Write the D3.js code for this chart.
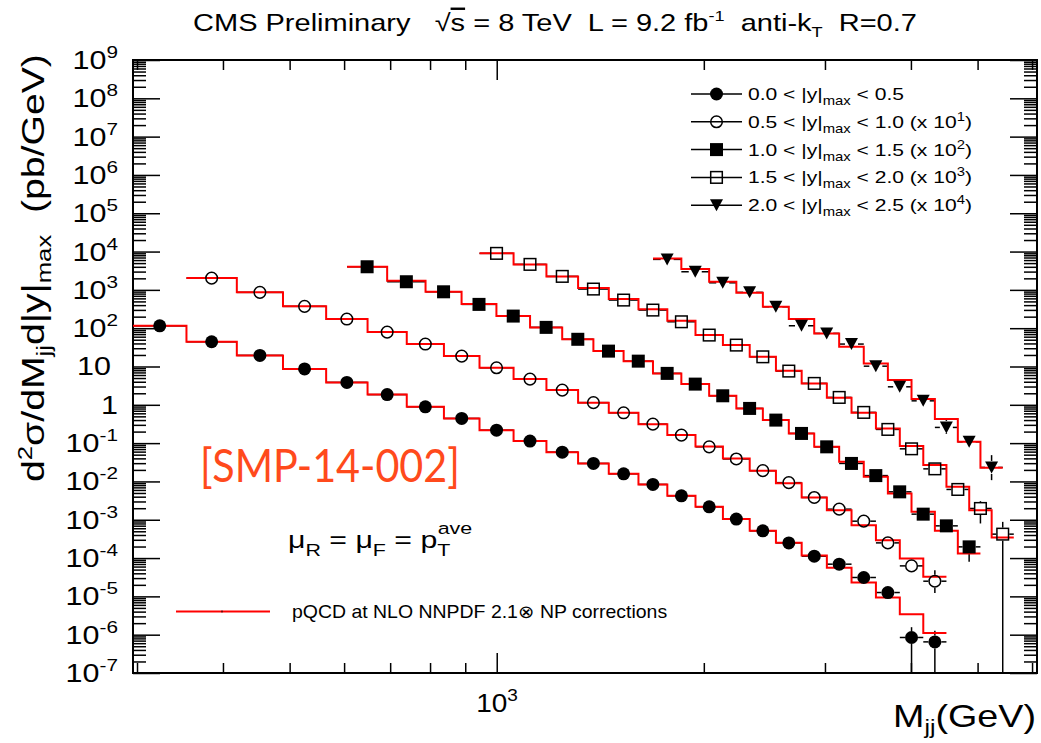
<!DOCTYPE html>
<html>
<head>
<meta charset="utf-8">
<script src="https://cdn.jsdelivr.net/npm/d3@7"></script>
<style>
	body { margin: 0; background: #fff; }
	svg { font-family: "Liberation Sans", Arial, Helvetica, sans-serif; }
</style>
</head>
<body>
<svg id="chart" width="1041" height="743"></svg>
<script>
// dijet mass bin edges (GeV); the |y|max 1.0-1.5 and 2.0-2.5 curves use the offset set
const massEdgesA = [296, 354, 419, 489, 565, 649, 740, 838, 944, 1058, 1181, 1313, 1455, 1607, 1770,
	1945, 2132, 2332, 2546, 2775, 3019, 3279, 3558, 3854, 4169, 4505, 4862, 5241, 5644];
const massEdgesB = [606, 693, 788, 889, 999, 1118, 1245, 1382, 1529, 1687, 1855, 2036, 2230, 2437,
	2658, 2894, 3146, 3416, 3703, 4008, 4334, 4680, 5048, 5439];

const rapidityEdges = ['0.0', '0.5', '1.0', '1.5', '2.0', '2.5'];
const scaleExp = [0, 1, 2, 3, 4];
const edgeSet = ['A', 'A', 'B', 'A', 'B'];
const firstBin = [0, 1, 0, 8, 9];
const markerType = ['dot', 'ring', 'square', 'box', 'tri'];

// measured cross sections (pb/GeV), before the x10^n offsets
const data0 = [115, 44.2, 19.5, 8.65, 3.85, 1.85, 0.887, 0.441, 0.218, 0.113, 0.0582, 0.0295, 0.0158,
	0.00835, 0.00421, 0.00217, 0.00104, 5.13e-4, 2.49e-4, 1.12e-4, 6.93e-5, 3.11e-5, 1.26e-5, 8.45e-7, 6.49e-7];
const data1 = [203, 86.1, 37.1, 17.3, 7.91, 3.85, 1.87, 0.925, 0.469, 0.242, 0.114, 0.0618, 0.0313,
	0.0162, 0.0080, 0.00386, 0.00191, 9.3e-4, 3.82e-4, 1.89e-4, 9.18e-5, 2.49e-5, 6.25e-6, 2.49e-6];
const data2 = [40.1, 16.3, 8.91, 4.18, 2.07, 1.05, 0.513, 0.252, 0.138, 0.0661, 0.0347, 0.0172, 0.00805,
	0.00399, 0.00179, 8.0e-4, 2.95e-4, 1.42e-4, 5.35e-5, 1.40e-5, 6.93e-6, 1.96e-6];
const data3 = [8.97, 4.63, 2.25, 1.05, 0.542, 0.297, 0.147, 0.0661, 0.0362, 0.0179, 0.00759, 0.00362,
	0.00156, 6.34e-4, 2.28e-4, 7.10e-5, 2.13e-5, 6.18e-6, 1.97e-6, 4.21e-7];
const data4 = [0.625, 0.297, 0.153, 0.0861, 0.0362, 0.01156, 0.00731, 0.00385, 0.00102, 2.95e-4, 1.27e-4,
	2.57e-5, 1.08e-5, 2.32e-6];

// NLO x NP prediction per bin
const theory0 = [115, 44.2, 19.5, 8.65, 3.85, 1.85, 0.887, 0.441, 0.218, 0.113, 0.0582, 0.0295, 0.0158,
	0.00835, 0.00421, 0.00217, 0.00104, 5.2e-4, 2.5e-4, 1.17e-4, 5.55e-5, 2.31e-5, 9.35e-6, 3.43e-6, 1.11e-6];
const theory1 = [203, 86.1, 37.1, 17.3, 7.91, 3.85, 1.87, 0.925, 0.469, 0.242, 0.114, 0.0618, 0.0313,
	0.0162, 0.0082, 0.00396, 0.00191, 9.0e-4, 3.82e-4, 1.78e-4, 7.23e-5, 2.93e-5, 9.77e-6, 3.23e-6];
const theory2 = [40.1, 17.4, 8.91, 4.3, 2.07, 1.05, 0.513, 0.252, 0.138, 0.0661, 0.0347, 0.0172, 0.00805,
	0.00399, 0.00179, 8.0e-4, 3.25e-4, 1.32e-4, 4.86e-5, 1.61e-5, 5.13e-6, 1.32e-6];
const theory3 = [8.97, 4.63, 2.25, 1.12, 0.58, 0.31, 0.156, 0.0661, 0.0362, 0.0179, 0.0077, 0.00362,
	0.00153, 6.2e-4, 2.4e-4, 8.36e-5, 2.67e-5, 7.23e-6, 1.78e-6, 3.45e-7];
const theory4 = [0.664, 0.349, 0.163, 0.0839, 0.0362, 0.0173, 0.00731, 0.00327, 0.00120, 4.42e-4, 1.41e-4,
	4.24e-5, 1.08e-5, 2.26e-6];

// the vertical error bars that stick out of the markers: [series, point, low, high] (0 = off scale)
const bigErrors = [[0, 23, 0, 1.57e-6], [0, 24, 0, 1.26e-6], [1, 23, 1.23e-6, 4.83e-6],
	[2, 21, 7.96e-7, 2.93e-6], [3, 18, 8.0e-7, 3.06e-6], [3, 19, 0, 8.81e-7],
	[4, 11, 1.82e-5, 4.5e-5], [4, 13, 1.08e-6, 4.86e-6]];

const allData = [data0, data1, data2, data3, data4];
const allTheory = [theory0, theory1, theory2, theory3, theory4];

const L = 133, R = 1037, T = 60, B = 673,
	mr = 6.5;

const svg = d3.select('#chart');

const x = d3.scaleLog().domain([296, 6100]).range([L, R]);
const y = d3.scaleLog().domain([1e-7, 1e9]).range([B, T]);

// ROOT draws Helvetica a bit wider than ours, so stretch text to the measured box
function fit(sel, left, width){
	const b = sel.node().getBBox();
	sel.attr('transform', `translate(${left},0) scale(${width / b.width},1) translate(${-b.x},0)`);
}
function widen(sel, px, k){
	sel.attr('transform', `translate(${px},0) scale(${k},1) translate(${-px},0)`);
}

// ticks
const decades = d3.range(-7, 10).map(e => Math.pow(10, e));
const minorY = [];
decades.slice(0, -1).forEach(d => { for (let m = 2; m <= 9; m++) minorY.push(d * m); });
const majorX = [1000];
const minorX = [300, 400, 500, 600, 700, 800, 900, 2000, 3000, 4000, 5000, 6000];

function tickAxis(axis, tx, ty){
	const g = svg.append('g')
		.attr('transform', `translate(${tx},${ty})`)
		.call(axis.tickFormat(''));
	g.select('.domain').remove();
	g.selectAll('line').attr('stroke', '#000').attr('stroke-width', 1.5);
}
tickAxis(d3.axisRight(y).tickValues(decades).tickSize(27), L, 0);
tickAxis(d3.axisRight(y).tickValues(minorY).tickSize(13), L, 0);
tickAxis(d3.axisLeft(y).tickValues(decades).tickSize(27), R, 0);
tickAxis(d3.axisLeft(y).tickValues(minorY).tickSize(13), R, 0);
tickAxis(d3.axisTop(x).tickValues(majorX).tickSize(20), 0, B);
tickAxis(d3.axisTop(x).tickValues(minorX).tickSize(10), 0, B);
tickAxis(d3.axisBottom(x).tickValues(majorX).tickSize(20), 0, T);
tickAxis(d3.axisBottom(x).tickValues(minorX).tickSize(10), 0, T);

svg.append('rect')
	.attr('x', L).attr('y', T)
	.attr('width', R - L).attr('height', B - T)
	.attr('fill', 'none').attr('stroke', '#000').attr('stroke-width', 2);

// y tick labels
decades.forEach(d => {
	const e = Math.round(Math.log10(d));
	const right = e === 1 ? 111 : 118;
	const t = svg.append('text')
		.attr('x', right).attr('y', y(d) + 9)
		.attr('text-anchor', 'end')
		.attr('font-size', 25);
	if (e === 0) t.text('1');
	else if (e === 1) t.text('10');
	else {
		t.append('tspan').text('10');
		t.append('tspan').attr('font-size', 17).attr('dy', -11).text(e);
	}
	widen(t, right, 1.22);
});

// x tick label
const xl = svg.append('text').attr('x', 497).attr('y', 712)
	.attr('text-anchor', 'middle').attr('font-size', 25);
xl.append('tspan').text('10');
xl.append('tspan').attr('font-size', 17).attr('dy', -11).text('3');
widen(xl, 497, 1.12);

// x title
const xt = svg.append('text').attr('x', 1036).attr('y', 727)
	.attr('text-anchor', 'end').attr('font-size', 32);
xt.append('tspan').text('M');
xt.append('tspan').attr('font-size', 21).attr('dy', 7).text('jj');
xt.append('tspan').attr('dy', -7).text('(GeV)');
fit(xt, 893, 143);

// y title
const ytG = svg.append('g').attr('transform', 'translate(44,482) rotate(-90)');
const yt = ytG.append('text').attr('x', 0).attr('y', 0).attr('font-size', 32);
yt.append('tspan').text('d');
yt.append('tspan').attr('font-size', 21).attr('dy', -12).text('2');
yt.append('tspan').attr('dy', 12).text('σ/dM');
yt.append('tspan').attr('font-size', 21).attr('dy', 7).text('jj');
yt.append('tspan').attr('dy', -7).text('d|y|');
yt.append('tspan').attr('font-size', 21).attr('dy', 7).text('max');
yt.append('tspan').attr('dy', -7).attr('xml:space', 'preserve').text('  (pb/GeV)');
fit(yt, 0, 428);

// title
const tt = svg.append('text').attr('x', 555).attr('y', 31)
	.attr('text-anchor', 'middle').attr('font-size', 24).attr('xml:space', 'preserve');
tt.append('tspan').text('CMS Preliminary   √');
tt.append('tspan').style('text-decoration', 'overline').text('s');
tt.append('tspan').text(' = 8 TeV  L = 9.2 fb');
tt.append('tspan').attr('font-size', 15).attr('dy', -10).text('-1');
tt.append('tspan').attr('dy', 10).text('  anti-k');
tt.append('tspan').attr('font-size', 15).attr('dy', 6).text('T');
tt.append('tspan').attr('dy', -6).text('  R=0.7');
fit(tt, 193, 724);

// series
function marker(g, type, cx, cy){
	if (type === 'dot') g.append('circle').attr('cx', cx).attr('cy', cy).attr('r', mr).attr('fill', '#000');
	else if (type === 'ring') g.append('circle').attr('cx', cx).attr('cy', cy).attr('r', mr - 0.7)
		.attr('fill', 'none').attr('stroke', '#000').attr('stroke-width', 1.5);
	else if (type === 'square') g.append('rect').attr('x', cx - mr).attr('y', cy - mr)
		.attr('width', 2 * mr).attr('height', 2 * mr).attr('fill', '#000');
	else if (type === 'box') g.append('rect').attr('x', cx - mr + 0.7).attr('y', cy - mr + 0.7)
		.attr('width', 2 * mr - 1.4).attr('height', 2 * mr - 1.4)
		.attr('fill', 'none').attr('stroke', '#000').attr('stroke-width', 1.5);
	else g.append('path')
		.attr('d', `M${cx - 6.5},${cy - 6}L${cx + 6.5},${cy - 6}L${cx},${cy + 6}Z`).attr('fill', '#000');
}

const errG = svg.append('g'), lineG = svg.append('g'), markG = svg.append('g');
const stepLine = d3.line().x(d => x(d[0])).y(d => y(d[1])).curve(d3.curveStepAfter);

allData.forEach((vals, s) => {
	const edges = edgeSet[s] === 'A' ? massEdgesA : massEdgesB;
	const f = Math.pow(10, scaleExp[s]);
	const pts = vals.map((v, i) => {
		const lo = edges[firstBin[s] + i], hi = edges[firstBin[s] + i + 1];
		return {lo: lo, hi: hi, c: Math.sqrt(lo * hi), v: v * f, t: allTheory[s][i] * f};
	});

	pts.forEach((p, i) => {
		const cx = x(p.c), cy = y(p.v);
		errG.append('line').attr('x1', x(p.lo)).attr('x2', cx - mr).attr('y1', cy).attr('y2', cy);
		errG.append('line').attr('x1', cx + mr).attr('x2', x(p.hi)).attr('y1', cy).attr('y2', cy);
		bigErrors.filter(e => e[0] === s && e[1] === i).forEach(e => {
			const yLo = e[2] > 0 ? y(e[2] * f) : B, yHi = y(e[3] * f);
			errG.append('line').attr('x1', cx).attr('x2', cx).attr('y1', yHi).attr('y2', cy - mr);
			errG.append('line').attr('x1', cx).attr('x2', cx).attr('y1', cy + mr).attr('y2', yLo);
		});
	});

	const steps = pts.map(p => [p.lo, p.t]);
	steps.push([pts[pts.length - 1].hi, pts[pts.length - 1].t]);
	lineG.append('path').attr('d', stepLine(steps))
		.attr('fill', 'none').attr('stroke', '#ff0000').attr('stroke-width', 2);

	pts.forEach(p => marker(markG, markerType[s], x(p.c), y(p.v)));
});
errG.selectAll('line').attr('stroke', '#000').attr('stroke-width', 1.5);

// legend
const legG = svg.append('g');
const legTexts = [];
rapidityEdges.slice(0, 5).forEach((lo, s) => {
	const ly = 94 + s * 27.8;
	legG.append('line').attr('x1', 691).attr('x2', 742).attr('y1', ly).attr('y2', ly)
		.attr('stroke', '#000').attr('stroke-width', 1.5);
	marker(legG, markerType[s], 716.5, ly);
	const t = legG.append('text').attr('x', 748).attr('y', ly + 6).attr('font-size', 17)
		.attr('xml:space', 'preserve');
	t.append('tspan').text(`${lo} < |y|`);
	t.append('tspan').attr('font-size', 12).attr('dy', 5).text('max');
	t.append('tspan').attr('dy', -5).text(` < ${rapidityEdges[s + 1]}`);
	if (scaleExp[s] > 0) {
		t.append('tspan').text(' (x 10');
		t.append('tspan').attr('font-size', 12).attr('dy', -7).text(scaleExp[s]);
		t.append('tspan').attr('dy', 7).text(')');
	}
	legTexts.push(t);
});
const legK = 224 / legTexts[1].node().getBBox().width;
legTexts.forEach(t => widen(t, 748, legK));

legG.append('line').attr('x1', 176).attr('x2', 270).attr('y1', 611.5).attr('y2', 611.5)
	.attr('stroke', '#ff0000').attr('stroke-width', 2);
legG.append('line').attr('x1', 222).attr('x2', 222).attr('y1', 610.5).attr('y2', 612.5)
	.attr('stroke', '#000').attr('stroke-width', 1);
const pq = legG.append('text').attr('x', 292).attr('y', 618).attr('font-size', 18)
	.text('pQCD at NLO NNPDF 2.1⊗ NP corrections');
fit(pq, 292, 375);

// annotations
const smp = svg.append('text').attr('x', 200).attr('y', 482)
	.attr('font-family', 'Lato, "Open Sans", sans-serif').attr('font-size', 46)
	.attr('fill', '#ff4a1c').text('[SMP-14-002]');
fit(smp, 200, 260);

const mu = svg.append('text').attr('x', 288).attr('y', 548).attr('font-size', 24)
	.attr('xml:space', 'preserve');
mu.append('tspan').text('μ');
mu.append('tspan').attr('font-size', 17).attr('dy', 8).text('R');
mu.append('tspan').attr('dy', -8).text(' = μ');
mu.append('tspan').attr('font-size', 17).attr('dy', 8).text('F');
mu.append('tspan').attr('dy', -8).text(' = p');
mu.append('tspan').attr('font-size', 17).attr('dy', 8).text('T');
mu.append('tspan').attr('font-size', 17).attr('dx', -10).attr('dy', -22).text('ave');
fit(mu, 288, 182);
</script>
</body>
</html>
